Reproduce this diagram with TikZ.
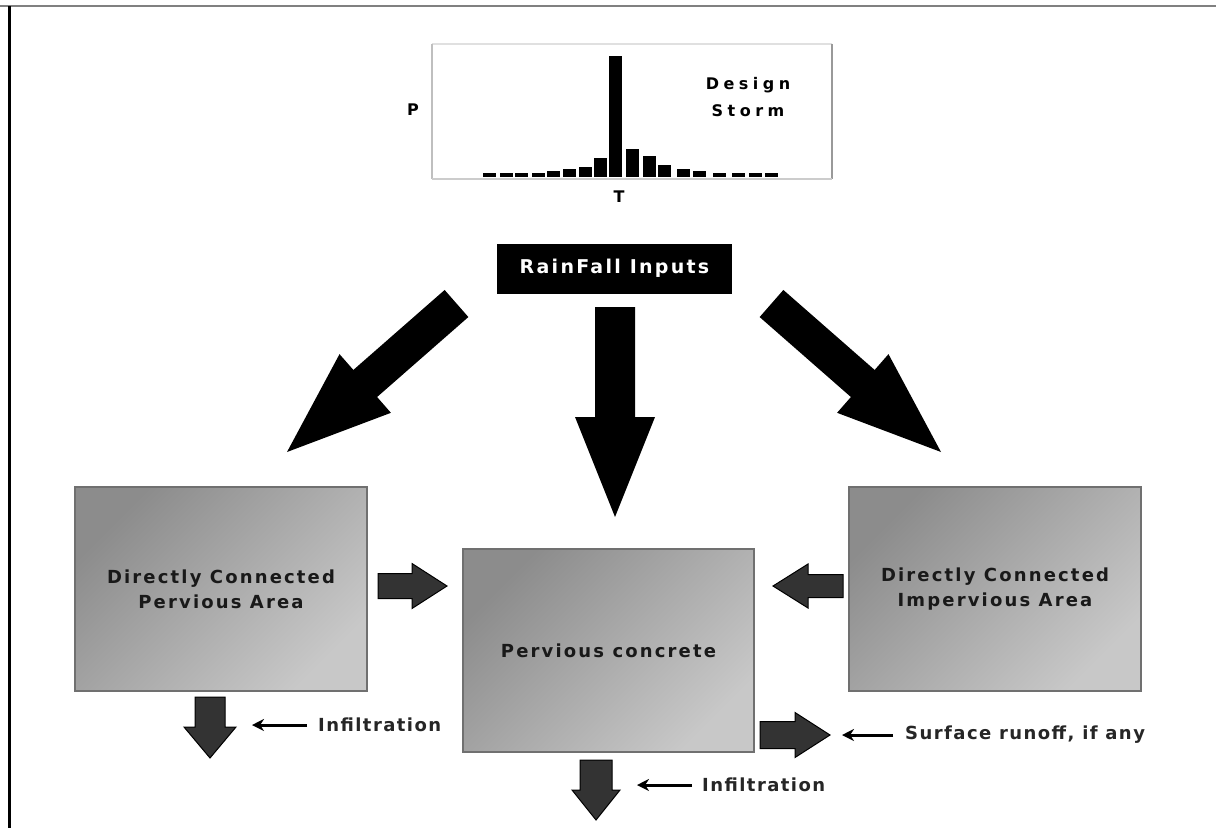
\documentclass[tikz,border=0pt]{standalone}
\usepackage{fontspec}
\usetikzlibrary{calc,arrows.meta}
\newfontfamily\spfont[LetterSpace=12]{DejaVu Sans}
\newfontfamily\lblfont[LetterSpace=8]{DejaVu Sans}
\newfontfamily\chfont[LetterSpace=28]{DejaVu Sans}
\definecolor{boxdark}{HTML}{8C8C8C}
\definecolor{boxlight}{HTML}{C8C8C8}
\definecolor{boxedge}{HTML}{707070}
\definecolor{arrgray}{HTML}{333333}
\newcommand\blockarr[6]{%
  \path ($(#3)!#6!(#2)$) coordinate (bH);
  \path[#1] ($(#2)!#4!90:(#3)$) -- ($(bH)!#4!90:(#3)$) -- ($(bH)!#5!90:(#3)$) -- (#3)
     -- ($(bH)!#5!-90:(#3)$) -- ($(bH)!#4!-90:(#3)$) -- ($(#2)!#4!-90:(#3)$) -- cycle;}
\tikzset{
  gbox/.style={draw=boxedge, line width=2pt, top color=boxdark, bottom color=boxlight,
     shading angle=45, minimum width=292pt, minimum height=204pt, inner sep=0pt,
     align=center, text=black!90, font=\spfont\bfseries\fontsize{18}{25}\selectfont},
  bigarrow/.style={fill=black},
  darrow/.style={fill=arrgray, draw=black, line width=1pt, line join=miter},
  thinarr/.style={-{Stealth[length=12pt,width=12pt]}, line width=3pt},
  lbl/.style={anchor=west, inner sep=0pt, font=\lblfont\bfseries\fontsize{18}{20}\selectfont, text=black!85},
  charttxt/.style={inner sep=0pt, font=\chfont\bfseries\fontsize{16}{27}\selectfont, align=center},
  bar/.style={fill=black}
}
\begin{document}
\begin{tikzpicture}[x=1pt,y=-1pt]
\useasboundingbox (0,0) rectangle (1216,828);
\fill[white] (0,0) rectangle (1216,828);
% frame
\draw[line width=2.5pt, black!50] (0,6) -- (1216,6);
\draw[line width=3pt, black] (9.5,6) -- (9.5,828);
% chart
\node[minimum width=400pt, minimum height=135pt, inner sep=0pt] (chart) at (632,111.5) {};
\draw[line width=2pt, black!12] (chart.north west) -- (chart.north east);
\draw[line width=1.5pt, black!25] (chart.north west) -- (chart.south west);
\draw[line width=1.5pt, black!40] (chart.north east) -- (chart.south east);
\draw[line width=2pt, black!20] (chart.south west) -- (chart.south east);
\foreach \bx/\by in {483/173,500/173,515/173,532/173,547/171,563/169,579/167,594/158,609/56,626/149,643/156,658/165,677/169,693/171,713/173,732/173,749/173,765/173}
  \fill[bar] (\bx,\by) rectangle (\bx+13,177);
\node[charttxt] (P) at (413,110) {P};
\node[charttxt] (T) at (619,197) {T};
\node[charttxt] (storm) at (748,97) {Design\\Storm};
% rainfall
\node[fill=black, minimum width=235pt, minimum height=50pt, inner sep=0pt, text=white,
  font=\spfont\bfseries\fontsize{19}{22}\selectfont] (rain) at (614.5,268.5) {RainFall Inputs};
% boxes
\node[gbox] (dcpa) at (221,589) {Directly Connected\\Pervious Area};
\node[gbox, minimum width=291pt, minimum height=203pt] (pc) at (608.5,650.5) {Pervious concrete};
\node[gbox] (dcia) at (995,589) {Directly Connected\\Impervious Area};
% big arrows
\coordinate (la1) at (456.5,303.5); \coordinate (la2) at (287,452);
\coordinate (ca1) at (615,307);     \coordinate (ca2) at (615,517);
\coordinate (ra1) at (771.5,303.5); \coordinate (ra2) at (941,452);
\blockarr{bigarrow}{la1}{la2}{18pt}{39pt}{104pt}
\blockarr{bigarrow}{ca1}{ca2}{20pt}{40pt}{100pt}
\blockarr{bigarrow}{ra1}{ra2}{18pt}{39pt}{104pt}
% dark arrows
\coordinate (pa1) at (378,586); \coordinate (pa2) at (447,586);
\coordinate (ia1) at (843,586); \coordinate (ia2) at (773,586);
\coordinate (sa1) at (760,735); \coordinate (sa2) at (830,735);
\coordinate (da1) at (210,697); \coordinate (da2) at (210,758);
\coordinate (ba1) at (596,760); \coordinate (ba2) at (596,820);
\blockarr{darrow}{pa1}{pa2}{12.5pt}{22.5pt}{35pt}
\blockarr{darrow}{ia1}{ia2}{11.5pt}{22pt}{35pt}
\blockarr{darrow}{sa1}{sa2}{13.5pt}{22.5pt}{35pt}
\blockarr{darrow}{da1}{da2}{15pt}{26pt}{31pt}
\blockarr{darrow}{ba1}{ba2}{16pt}{24pt}{30pt}
% labels
\node[lbl] (inf1) at (318,725) {Infiltration};
\node[lbl] (inf2) at (702,785) {Infiltration};
\node[lbl] (surf) at (905,735) {Surface runoff, if any};
\coordinate (t1) at (252,725);
\coordinate (t2) at (637,785);
\coordinate (t3) at (842,735);
\draw[thinarr] ([xshift=-11pt]inf1.west) -- (t1);
\draw[thinarr] ([xshift=-10pt]inf2.west) -- (t2);
\draw[thinarr] ([xshift=-12pt]surf.west) -- (t3);
\end{tikzpicture}
\end{document}
